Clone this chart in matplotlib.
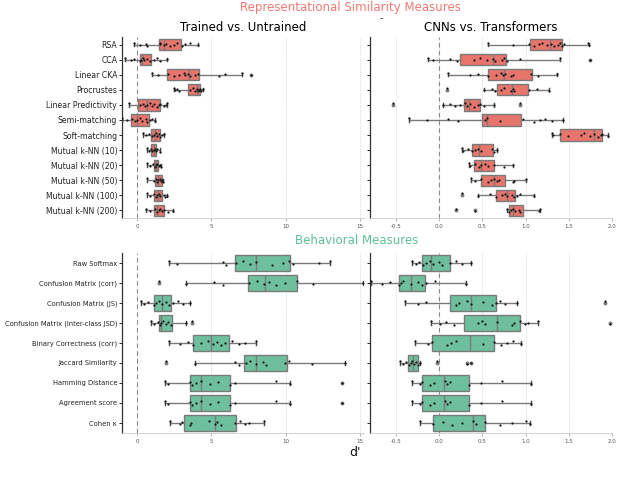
import matplotlib
matplotlib.use("Agg")
import matplotlib.pyplot as plt
import numpy as np

RED = "#E8756C"
GREEN = "#6DBF9E"
EDGE = "#7a7a7a"

rep_labels = ["RSA", "CCA", "Linear CKA", "Procrustes", "Linear Predictivity", "Semi-matching",
              "Soft-matching", "Mutual k-NN (10)", "Mutual k-NN (20)", "Mutual k-NN (50)",
              "Mutual k-NN (100)", "Mutual k-NN (200)"]
beh_labels = ["Raw Softmax", "Confusion Matrix (corr)", "Confusion Matrix (JS)",
              "Confusion Matrix (Inter-class JSD)", "Binary Correctness (corr)", "Jaccard Similarity",
              "Hamming Distance", "Agreement score", "Cohen κ"]

# box stats: (whislo, q1, median, q3, whishi, fliers)
rep_tu_stats = [
    (-0.18, 1.47, 1.79, 2.99, 4.08, []),
    (-0.83, 0.18, 0.33, 0.94, 2.05, []),
    (1.00, 2.05, 3.53, 4.17, 7.03, [7.63]),
    (2.46, 3.46, 4.06, 4.24, 4.46, []),
    (-0.51, 0.07, 0.71, 1.56, 2.05, []),
    (-1.00, -0.38, 0.00, 0.78, 1.23, []),
    (0.38, 0.94, 1.23, 1.52, 1.83, []),
    (0.67, 0.98, 1.12, 1.29, 1.56, []),
    (0.67, 1.16, 1.27, 1.41, 1.63, []),
    (0.71, 1.20, 1.41, 1.67, 1.74, []),
    (0.71, 1.18, 1.41, 1.67, 2.00, []),
    (0.62, 1.12, 1.38, 1.79, 2.41, []),
]
rep_tu_points = [
    [-0.18, 0.22, 0.63, 0.71, 1.52, 1.56, 1.83, 1.96, 2.23, 2.46, 2.68, 3.01, 3.24, 3.57, 4.08],
    [-0.83, -0.40, -0.18, 0.22, 0.29, 0.40, 0.49, 0.71, 0.89, 1.16, 1.34, 1.56, 2.05],
    [1.0, 1.45, 2.08, 2.46, 2.86, 3.13, 3.24, 3.46, 3.57, 3.91, 4.13, 5.54, 5.92, 7.03, 7.63],
    [2.46, 2.57, 2.72, 2.86, 3.57, 3.75, 3.91, 4.02, 4.13, 4.20, 4.24, 4.33, 4.42],
    [-0.51, 0.22, 0.40, 0.56, 0.71, 0.89, 1.0, 1.16, 1.34, 1.47, 1.56, 1.83, 1.96, 2.05],
    [-1.0, -0.67, -0.33, -0.11, 0.0, 0.18, 0.33, 0.63, 0.71, 0.85, 1.0, 1.23],
    [0.38, 0.63, 0.78, 1.0, 1.12, 1.29, 1.38, 1.47, 1.56, 1.67, 1.83],
    [0.67, 0.78, 0.94, 1.03, 1.12, 1.21, 1.29, 1.38, 1.56],
    [0.67, 0.85, 1.07, 1.21, 1.29, 1.38, 1.47, 1.56, 1.63],
    [0.71, 1.16, 1.27, 1.36, 1.45, 1.52, 1.63, 1.70, 1.74],
    [0.71, 0.89, 1.12, 1.25, 1.38, 1.47, 1.56, 1.79, 1.90, 2.0],
    [0.62, 0.89, 1.21, 1.34, 1.47, 1.56, 1.70, 1.83, 2.12, 2.41],
]

rep_ct_stats = [
    (0.56, 1.05, 1.28, 1.42, 1.73, []),
    (-0.13, 0.24, 0.62, 0.77, 1.40, [1.75]),
    (0.10, 0.57, 0.75, 1.07, 1.36, []),
    (0.52, 0.67, 0.84, 1.03, 1.27, [0.09]),
    (0.04, 0.29, 0.34, 0.47, 0.64, [-0.53, 0.93]),
    (-0.35, 0.50, 0.55, 0.95, 1.43, []),
    (1.30, 1.40, 1.79, 1.88, 1.95, []),
    (0.26, 0.38, 0.46, 0.62, 0.67, []),
    (0.34, 0.40, 0.48, 0.63, 0.86, []),
    (0.37, 0.48, 0.63, 0.76, 1.01, []),
    (0.45, 0.66, 0.78, 0.88, 1.10, [0.26]),
    (0.79, 0.81, 0.86, 0.97, 1.17, [0.19, 0.42]),
]
rep_ct_points = [
    [0.56, 0.86, 1.04, 1.10, 1.16, 1.19, 1.25, 1.29, 1.33, 1.37, 1.40, 1.42, 1.45, 1.72, 1.73],
    [-0.13, -0.07, 0.13, 0.21, 0.40, 0.47, 0.55, 0.62, 0.65, 0.73, 0.75, 0.79, 0.93, 1.40, 1.75],
    [0.10, 0.36, 0.45, 0.57, 0.66, 0.71, 0.74, 0.76, 0.83, 0.86, 1.06, 1.14, 1.36],
    [0.09, 0.52, 0.61, 0.65, 0.71, 0.75, 0.83, 0.85, 0.87, 1.04, 1.13, 1.27],
    [-0.53, 0.04, 0.12, 0.18, 0.24, 0.30, 0.32, 0.36, 0.40, 0.45, 0.47, 0.52, 0.64, 0.93],
    [-0.35, -0.14, 0.10, 0.22, 0.53, 0.55, 0.70, 0.97, 1.10, 1.17, 1.22, 1.30, 1.43],
    [1.30, 1.32, 1.40, 1.49, 1.64, 1.68, 1.74, 1.79, 1.84, 1.87, 1.89, 1.95],
    [0.26, 0.28, 0.33, 0.38, 0.42, 0.45, 0.48, 0.61, 0.63, 0.67],
    [0.34, 0.36, 0.42, 0.46, 0.48, 0.53, 0.57, 0.63, 0.75, 0.86],
    [0.37, 0.42, 0.48, 0.57, 0.60, 0.63, 0.67, 0.69, 0.86, 0.87, 1.01],
    [0.26, 0.45, 0.59, 0.66, 0.73, 0.76, 0.79, 0.84, 0.87, 0.90, 0.94, 1.10],
    [0.19, 0.42, 0.79, 0.81, 0.83, 0.86, 0.88, 0.92, 0.94, 1.15, 1.17],
]

beh_tu_stats = [
    (2.13, 6.57, 7.98, 10.27, 12.96, []),
    (3.27, 7.47, 8.63, 10.72, 15.17, [1.46]),
    (0.29, 1.12, 1.68, 2.31, 3.59, []),
    (0.96, 1.48, 1.64, 2.35, 3.27, [3.70]),
    (2.15, 3.77, 5.00, 6.17, 8.03, []),
    (3.92, 7.20, 7.98, 10.09, 13.97, [1.93]),
    (1.86, 3.54, 4.33, 6.28, 10.31, [13.74]),
    (1.86, 3.54, 4.33, 6.28, 10.31, [13.74]),
    (2.20, 3.14, 5.22, 6.68, 8.52, []),
]
beh_tu_points = [
    [2.13, 2.71, 5.78, 6.01, 6.64, 7.13, 7.58, 7.98, 9.10, 9.82, 10.22, 10.49, 12.24, 12.96],
    [1.46, 3.27, 5.20, 5.81, 7.53, 8.07, 8.54, 8.88, 9.33, 9.93, 10.72, 11.80, 15.17],
    [0.29, 0.45, 0.74, 1.12, 1.30, 1.48, 1.70, 1.97, 2.15, 2.42, 2.76, 3.09, 3.59],
    [0.96, 1.12, 1.41, 1.52, 1.64, 1.75, 1.93, 2.09, 2.31, 3.27, 3.70],
    [2.15, 2.87, 3.43, 3.77, 4.33, 4.78, 5.11, 5.38, 5.67, 5.90, 6.41, 6.86, 7.24, 8.03],
    [1.93, 3.92, 6.57, 6.86, 7.35, 7.62, 7.98, 8.48, 8.65, 9.93, 10.22, 11.73, 13.97],
    [1.86, 2.09, 3.54, 3.72, 3.99, 4.33, 4.89, 5.45, 6.23, 6.57, 9.37, 10.31, 13.74],
    [1.86, 2.09, 3.54, 3.72, 3.99, 4.33, 4.89, 5.45, 6.23, 6.57, 9.37, 10.31, 13.74],
    [2.20, 2.87, 3.05, 3.54, 3.65, 4.84, 5.22, 5.38, 5.67, 6.57, 6.91, 7.24, 7.53, 8.52],
]

beh_ct_stats = [
    (-0.31, -0.20, -0.09, 0.13, 0.37, []),
    (-0.79, -0.47, -0.33, -0.16, 0.31, []),
    (-0.40, 0.12, 0.37, 0.66, 0.90, [1.92]),
    (-0.10, 0.29, 0.67, 0.93, 1.14, [1.98]),
    (-0.28, -0.08, 0.36, 0.64, 0.95, []),
    (-0.45, -0.36, -0.30, -0.25, -0.22, [-0.03, 0.32, 0.37]),
    (-0.31, -0.20, 0.06, 0.35, 1.06, []),
    (-0.31, -0.20, 0.06, 0.35, 1.06, []),
    (-0.22, -0.07, 0.39, 0.53, 1.05, []),
]
beh_ct_points = [
    [-0.31, -0.27, -0.23, -0.19, -0.15, -0.11, -0.07, 0.0, 0.03, 0.12, 0.20, 0.26, 0.37],
    [-0.79, -0.66, -0.57, -0.46, -0.44, -0.42, -0.32, -0.24, -0.20, -0.15, -0.05, 0.31],
    [-0.40, -0.24, -0.15, 0.20, 0.23, 0.32, 0.37, 0.51, 0.61, 0.66, 0.70, 0.76, 0.90, 1.92],
    [-0.10, 0.01, 0.08, 0.17, 0.45, 0.50, 0.53, 0.67, 0.84, 0.87, 0.93, 0.99, 1.03, 1.14, 1.98],
    [-0.28, -0.13, -0.08, 0.09, 0.14, 0.20, 0.51, 0.64, 0.72, 0.78, 0.85, 0.95],
    [-0.45, -0.42, -0.38, -0.35, -0.33, -0.31, -0.29, -0.27, -0.24, -0.22, -0.03, 0.32, 0.37],
    [-0.31, -0.22, -0.20, -0.11, -0.06, 0.07, 0.09, 0.12, 0.35, 0.49, 0.73, 1.06],
    [-0.31, -0.22, -0.20, -0.11, -0.06, 0.07, 0.09, 0.12, 0.35, 0.49, 0.73, 1.06],
    [-0.22, -0.07, 0.05, 0.15, 0.27, 0.39, 0.43, 0.53, 0.70, 0.84, 1.01, 1.05],
]

left_ticks = [0, 5, 10, 15]
right_ticks = [-0.5, 0.0, 0.5, 1.0, 1.5, 2.0]

W, H = 640, 479
fig = plt.figure(figsize=(W / 100, H / 100), dpi=100)


def px_axes(x0, y0, x1, y1):
    return fig.add_axes([x0 / W, 1 - y1 / H, (x1 - x0) / W, (y1 - y0) / H])


def draw(ax, stats, points, labels, color, xlim, ticks, show_labels, width, lab_fs):
    n = len(stats)
    pos = np.arange(n)
    bstats = []
    for (wl, q1, med, q3, wh, fl) in stats:
        bstats.append(dict(whislo=wl, q1=q1, med=med, q3=q3, whishi=wh, fliers=fl))
    for t in ticks:
        ax.axvline(t, color="#cccccc", lw=0.6, ls=(0, (1, 1.5)), zorder=0)
    ax.axvline(0, color="#888888", lw=0.8, ls=(0, (4, 3)), zorder=0.5)
    ax.bxp(bstats, positions=pos, vert=False, widths=width, patch_artist=True,
           showfliers=True, capwidths=width * 0.3,
           boxprops=dict(facecolor=color, edgecolor=EDGE, linewidth=1.0),
           medianprops=dict(color=EDGE, linewidth=1.0),
           whiskerprops=dict(color=EDGE, linewidth=1.0),
           capprops=dict(color="#444444", linewidth=1.0),
           flierprops=dict(marker='o', markersize=1.8, markerfacecolor=EDGE,
                           markeredgecolor=EDGE), zorder=2)
    for i, pts in enumerate(points):
        k = np.arange(len(pts))
        jit = (((k * 0.618) % 1.0) - 0.5) * 0.25
        ax.scatter(pts, i + jit, s=2.5, color="#111111", zorder=3, linewidths=0)
    ax.set_xlim(*xlim)
    ax.set_ylim(n - 0.5, -0.5)
    ax.set_yticks(pos)
    if show_labels:
        ax.set_yticklabels(labels, fontsize=lab_fs, color="#222222")
    else:
        ax.set_yticklabels([])
    ax.set_xticks(ticks)
    ax.set_xticklabels([f"{t:g}" if isinstance(t, int) else f"{t:.1f}" for t in ticks],
                       fontsize=4, color="#555555")
    ax.tick_params(axis='y', length=2, width=0.6, pad=1.5)
    ax.tick_params(axis='x', length=2, width=0.5, pad=2, color="#999999")
    for s in ["top", "right"]:
        ax.spines[s].set_visible(False)
    ax.spines["left"].set_color("#333333")
    ax.spines["left"].set_linewidth(0.9)
    ax.spines["bottom"].set_color("#cccccc")
    ax.spines["bottom"].set_linewidth(0.6)
    ax.set_facecolor("white")


ax1 = px_axes(122, 37, 364, 218)
ax2 = px_axes(370, 37, 612, 218)
ax3 = px_axes(122, 253, 364, 433)
ax4 = px_axes(370, 253, 612, 433)

draw(ax1, rep_tu_stats, rep_tu_points, rep_labels, RED, (-1.0, 15.25), left_ticks, True, 0.75, 5.6)
draw(ax2, rep_ct_stats, rep_ct_points, rep_labels, RED, (-0.8, 2.0), right_ticks, False, 0.75, 5.6)
draw(ax3, beh_tu_stats, beh_tu_points, beh_labels, GREEN, (-1.0, 15.25), left_ticks, True, 0.8, 4.9)
draw(ax4, beh_ct_stats, beh_ct_points, beh_labels, GREEN, (-0.8, 2.0), right_ticks, False, 0.8, 4.9)

ax1.set_title("Trained vs. Untrained", fontsize=8.5, pad=4)
ax2.set_title("CNNs vs. Transformers", fontsize=8.5, pad=4)

fig.text(350 / W, 1 - 7 / H, "Representational Similarity Measures", ha="center", va="center",
         fontsize=8.5, color="#F07A72")
fig.text(381 / W, 1 - 18 / H, "-", ha="center", va="center", fontsize=7, color="#333333")
fig.text(357 / W, 1 - 240 / H, "Behavioral Measures", ha="center", va="center",
         fontsize=8.5, color="#5FBF95")
fig.text(355 / W, 1 - 453 / H, "d'", ha="center", va="center", fontsize=9, color="#111111")

fig.savefig("out.png", dpi=100)
